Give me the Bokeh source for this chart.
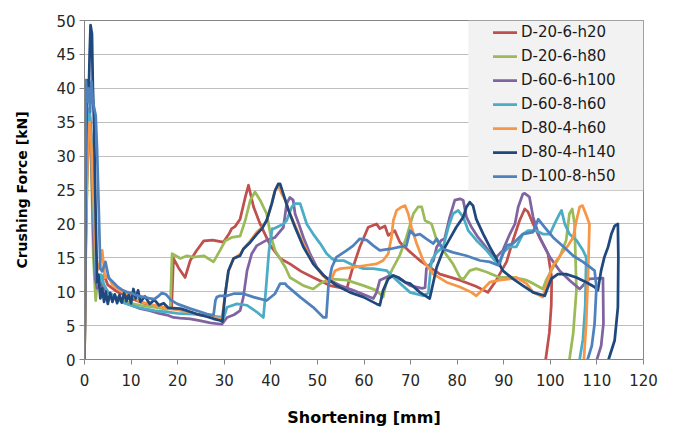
from bokeh.plotting import figure
from bokeh.models import Legend, LegendItem, BoxAnnotation, FixedTicker
from bokeh.embed import file_html
from bokeh.resources import INLINE

# ---------------- data ----------------
series_names = ["D-20-6-h20", "D-20-6-h80", "D-60-6-h100", "D-60-8-h60",
                "D-80-4-h60", "D-80-4-h140", "D-100-8-h50"]
series_colors = ["#C0504D", "#9BBB59", "#8064A2", "#4BACC6",
                 "#F79646", "#1F497D", "#4F81BD"]
x_ticks = [0, 10, 20, 30, 40, 50, 60, 70, 80, 90, 100, 110, 120]
y_ticks = [0, 5, 10, 15, 20, 25, 30, 35, 40, 45, 50]

red_x = [0, 0.3, 0.7, 1.0, 1.4, 1.8, 2.2, 2.6, 3.0, 3.6,
         4.2, 5.0, 6.0, 7.0, 8.5, 10, 12, 14, 16, 18,
         18.7, 19.1, 20.2, 21.6, 22.7, 24.0, 25.6, 27.5, 29.8, 31.0,
         31.6, 32.3, 33.4, 34.5, 35.2, 36.3, 37.7, 39.9, 42.0, 44.1,
         46.5, 49.1, 52.7, 56.3, 57.4, 59.1, 60.9, 62.7, 63.4, 64.5,
         65.2, 66.6, 67.7, 69.5, 72.0, 76.3, 80.6, 84.0, 86.6, 88.4,
         90.6, 92.0, 93.4, 94.5, 95.2, 96.3, 97.7, 99.5, 100.3, 100.2,
         99.8, 99.0]
red_y = [0, 20, 35, 37, 33, 22, 13, 11.5, 12, 11,
         12.5, 11, 10.5, 10, 9.5, 9, 8.5, 8, 7.8, 7.5,
         7.6, 14.9, 13.5, 12.1, 14.6, 16.0, 17.5, 17.6, 17.3, 18.5,
         19.3, 19.6, 20.7, 23.9, 25.7, 22.5, 20.0, 16.8, 14.9, 14.1,
         13.0, 12.1, 10.9, 10.4, 13.1, 16.6, 19.5, 20.0, 19.3, 19.7,
         18.3, 19.0, 17.3, 16.1, 14.6, 12.6, 11.7, 10.8, 9.9, 11.7,
         14.4, 17.6, 20.5, 22.2, 21.8, 20.0, 18.0, 15.6, 12.0, 8.0,
         4.0, 0]

green_x = [0, 0.3, 0.7, 1.1, 1.5, 1.9, 2.4, 2.8, 3.3, 4.0,
           5.0, 6.0, 8, 10, 12, 14, 16, 17.5, 18.4, 18.8,
           19.6, 20.6, 22.0, 23.4, 25.6, 27.7, 29.1, 30.2, 31.6, 33.4,
           34.5, 35.6, 36.6, 37.7, 39.1, 39.9, 40.9, 43.1, 44.1, 47.0,
           49.1, 50.6, 52.7, 56.3, 59.9, 62.7, 64.1, 64.9, 66.3, 67.7,
           69.1, 70.6, 71.6, 72.4, 73.1, 74.5, 75.6, 77.0, 79.1, 80.6,
           81.3, 82.7, 84.1, 86.3, 89.1, 92.0, 94.9, 96.3, 98.4, 99.1,
           100.6, 102.0, 103.4, 104.1, 104.7, 105.2, 105.6, 104.9, 104.1]
green_y = [0, 18, 30, 33, 28, 15, 8.7, 11.5, 12.5, 11,
           10, 9.5, 8.8, 8.3, 8, 7.8, 7.6, 7.4, 7.5, 15.6,
           15.3, 14.9, 15.3, 15.1, 15.3, 14.4, 16.1, 17.5, 18.0, 18.2,
           20.5, 23.5, 24.7, 23.5, 21.5, 18.5, 16.1, 13.6, 12.1, 10.9,
           10.4, 11.2, 11.9, 11.7, 10.9, 10.2, 9.2, 11.7, 13.6, 15.4,
           18.0, 21.5, 22.5, 22.5, 20.5, 20.0, 17.6, 16.1, 14.1, 12.1,
           11.8, 13.1, 13.4, 12.9, 12.1, 12.1, 11.7, 11.2, 10.4, 11.7,
           13.6, 15.1, 17.6, 21.5, 22.2, 20.0, 10.2, 3.8, 0]

purple_x = [0, 0.3, 0.7, 1.1, 1.5, 1.9, 2.3, 2.7, 3.2, 4,
            5, 6, 8, 10, 12, 14, 16, 18, 19.1, 20.5,
            22.7, 25, 27, 29.5, 30.6, 32.1, 33.4, 34.1, 34.9, 35.9,
            37.0, 39.1, 40.9, 42.7, 43.4, 44.1, 44.8, 45.2, 46.0, 47.0,
            48.4, 49.9, 52.0, 54.9, 57.7, 60.6, 62.0, 62.7, 63.4, 65.6,
            66.5, 68.1, 69.9, 72.5, 73.1, 73.4, 74.9, 75.6, 76.6, 77.3,
            78.4, 79.5, 80.6, 81.3, 82.0, 83.1, 84.5, 85.6, 87.0, 88.4,
            89.8, 91.3, 92.4, 93.1, 94.1, 94.5, 95.5, 96.3, 97.7, 99.9,
            102.0, 104.1, 106.3, 108.4, 111.3, 111.4, 110.9, 110.0]
purple_y = [0, 20, 34, 36, 30, 18, 12, 10.5, 11.5, 10.5,
            10, 9.5, 8.5, 8, 7.5, 7.2, 6.8, 6.5, 6.2, 6.1,
            6.0, 5.7, 5.4, 5.2, 6.2, 6.6, 7.2, 9.2, 13.1, 15.6,
            16.8, 17.6, 18.0, 19.5, 23.0, 23.9, 23.5, 21.5, 20.0, 18.0,
            15.6, 13.6, 11.9, 10.9, 10.2, 9.4, 9.0, 9.9, 11.7, 12.4,
            12.3, 11.7, 10.9, 10.5, 10.6, 13.4, 14.6, 16.6, 17.6, 17.8,
            21.0, 23.5, 23.7, 23.5, 21.0, 19.5, 18.0, 17.1, 15.8, 15.1,
            16.1, 18.5, 20.0, 22.5, 24.4, 24.5, 24.0, 21.0, 18.0, 15.1,
            13.1, 11.7, 10.4, 11.9, 12.0, 5.3, 2.0, 0]

cyan_x = [0, 0.3, 0.7, 1.1, 1.5, 2.0, 2.5, 3.0, 3.6, 4.2,
          5, 6, 8, 10, 12, 15, 18, 20, 23.4, 26,
          29.9, 30.6, 32.7, 34.9, 37.0, 38.4, 38.9, 39.6, 40.3, 40.6,
          42.7, 43.4, 44.5, 45.2, 46.3, 47.0, 47.7, 49.1, 50.6, 52.0,
          53.1, 53.8, 55.6, 57.7, 59.9, 62.0, 64.9, 67.0, 69.9, 72.7,
          73.8, 74.5, 75.6, 77.0, 78.1, 79.1, 80.2, 81.3, 82.4, 84.1,
          86.3, 88.1, 89.1, 89.8, 91.3, 92.7, 94.1, 95.2, 97.0, 98.4,
          99.9, 100.9, 102.0, 102.4, 103.1, 104.1, 105.6, 107.0, 107.7, 107.5,
          107.0, 106.3]
cyan_y = [0, 22, 35, 37, 32, 20, 12, 11, 12.5, 11,
          10, 9.5, 8.5, 8, 7.6, 7.2, 7.0, 6.8, 6.7, 6.5,
          6.2, 7.7, 8.2, 8.0, 7.0, 6.2, 10, 16, 19.3, 19.3,
          20.0, 20.5, 22.5, 23.0, 23.0, 21.5, 20.0, 18.5, 17.1, 15.6,
          14.9, 14.6, 14.6, 13.9, 13.4, 13.4, 13.1, 11.7, 9.9, 9.4,
          9.8, 14.6, 15.8, 16.6, 19.5, 21.5, 22.0, 21.0, 19.0, 17.6,
          16.1, 14.6, 13.9, 15.8, 16.6, 16.6, 18.5, 19.0, 19.0, 18.5,
          18.5, 20.0, 21.5, 22.0, 20.0, 18.5, 17.6, 16.1, 15.1, 8.0,
          3.0, 0]

orange_x = [0, 0.3, 0.7, 1.1, 1.5, 1.9, 2.2, 2.6, 3.2, 3.8,
            4.4, 5.0, 6.0, 8, 10, 12, 15, 18, 20, 22.7,
            25, 27.7, 29.5, 30.2, 30.9, 32.0, 33.4, 34.1, 35.6, 37.0,
            38.1, 39.1, 40.2, 40.9, 41.6, 42.3, 43.1, 44.1, 45.2, 46.3,
            49.1, 51.3, 52.7, 53.8, 54.9, 57.7, 60.6, 62.7, 64.1, 65.2,
            65.9, 66.3, 67.0, 68.1, 68.8, 69.5, 70.2, 71.3, 72.7, 74.9,
            77.7, 80.6, 83.1, 84.1, 85.6, 87.0, 89.1, 91.3, 92.7, 94.9,
            96.3, 98.4, 99.5, 100.2, 101.3, 102.4, 103.8, 104.9, 105.6, 106.3,
            106.9, 107.6, 108.4, 108.1, 107.7, 107.2]
orange_y = [0, 18, 32, 35, 31, 24, 20, 13, 14, 16.1,
            12, 12.5, 11, 10, 9.5, 8.5, 8, 7.5, 7.3, 7.0,
            6.5, 6.2, 6.0, 9.5, 13, 14.9, 15.5, 16.3, 17.5, 18.8,
            19.5, 20.5, 23.0, 24.9, 25.7, 24.5, 23.5, 21.5, 19.8, 18.0,
            14.1, 12.3, 11.4, 13.1, 13.4, 13.6, 13.9, 14.1, 14.6, 15.6,
            18.0, 20.5, 22.0, 22.5, 22.7, 21.5, 19.5, 17.1, 14.6, 12.6,
            11.4, 10.7, 9.9, 9.4, 10.4, 11.4, 11.7, 11.9, 12.1, 11.2,
            9.9, 9.2, 11.7, 13.4, 14.6, 15.6, 16.8, 18.0, 20.5, 22.5,
            22.7, 21.5, 20.0, 12.6, 5.3, 0]

navy_x = [0, 0.3, 0.5, 0.7, 0.9, 1.1, 1.3, 1.6, 1.8, 2.0,
          2.4, 2.7, 3.0, 3.4, 3.8, 4.2, 4.6, 5.0, 5.5, 6.0,
          6.5, 7.0, 7.5, 8.0, 8.5, 9.0, 9.5, 10.0, 10.5, 11.0,
          11.5, 12.0, 13, 14, 15, 16, 17, 18, 20.6, 22,
          24.1, 26, 27.7, 29.1, 29.6, 30.2, 30.9, 32.0, 33.4, 34.1,
          35.6, 37.0, 38.1, 39.1, 40.2, 40.9, 41.6, 42.0, 42.7, 43.8,
          45.2, 47.0, 49.1, 51.3, 54.1, 57.0, 59.9, 62.7, 63.4, 64.1,
          65.2, 66.3, 67.4, 68.8, 69.9, 72.0, 74.1, 74.5, 75.6, 77.0,
          78.4, 79.8, 81.3, 82.0, 82.7, 83.4, 84.1, 85.6, 87.0, 88.4,
          89.8, 92.0, 94.1, 96.3, 98.8, 100.2, 101.6, 103.4, 105.6, 107.7,
          109.5, 110.2, 110.9, 111.6, 112.4, 113.1, 113.8, 114.5, 114.6, 114.5,
          113.8, 112.5]
navy_y = [0, 30, 41.2, 41, 38.5, 45, 49.3, 48, 40, 36,
          21.2, 11.4, 12.5, 9, 10.5, 8.5, 10, 8.2, 9.8, 8.5,
          9.6, 8.3, 9.5, 8.4, 9.8, 8.6, 9.5, 8.3, 10.4, 9.0,
          10.2, 8.5, 9.3, 8.2, 8.8, 8.0, 8.3, 7.6, 7.5, 7.2,
          6.7, 6.4, 6.0, 5.75, 5.6, 9.7, 13.1, 14.9, 15.3, 16.3,
          17.3, 18.5, 19.3, 20.5, 23.0, 24.9, 25.9, 25.9, 24.4, 22.0,
          19.5, 16.6, 14.1, 12.4, 10.9, 9.9, 9.2, 8.2, 8.0, 10.2,
          11.9, 12.4, 12.1, 11.4, 11.2, 9.9, 9.0, 10.2, 13.6, 16.1,
          17.8, 19.5, 21.0, 22.5, 23.2, 22.7, 20.7, 18.5, 16.6, 14.9,
          13.1, 11.9, 10.9, 9.9, 9.4, 11.9, 12.6, 12.6, 12.1, 11.4,
          10.7, 10.2, 13.1, 15.1, 16.6, 18.5, 19.7, 20.0, 15.1, 7.7,
          2.8, 0]

blue_x = [0, 0.15, 0.3, 0.6, 0.9, 1.2, 1.5, 1.8, 2.1, 2.4,
          2.7, 3.1, 3.4, 3.8, 4.5, 5.2, 6, 7, 8, 9,
          10, 11, 12, 13, 14, 15, 15.8, 16.6, 17.5, 18.5,
          19.9, 22.7, 25, 26.3, 27.7, 28.1, 28.4, 29.1, 30.6, 32.0,
          33.4, 34.1, 36.3, 39.1, 40.9, 42.0, 43.1, 43.4, 46.3, 49.1,
          51.3, 51.9, 52.4, 53.1, 54.1, 56.3, 57.7, 59.1, 60.6, 62.0,
          63.4, 65.6, 67.7, 69.1, 69.9, 70.9, 72.0, 73.4, 74.9, 75.6,
          77.0, 79.1, 82.0, 84.9, 87.0, 88.8, 89.5, 90.6, 92.0, 94.1,
          96.3, 97.4, 98.8, 100.6, 102.9, 104.9, 107.0, 109.5, 109.9, 109.5,
          108.9, 108.0]
blue_y = [0, 20, 41.2, 38, 40, 36.5, 41, 38, 37, 36,
          31, 21.2, 13.4, 13, 14.4, 12, 11.5, 10.8, 10.3, 10,
          9.8, 9.5, 9.3, 9.2, 9.0, 8.9, 9.3, 9.8, 9.6, 8.8,
          8.2, 7.5, 7.0, 6.7, 6.5, 8.7, 9.2, 9.4, 9.4, 9.7,
          9.7, 9.7, 9.2, 8.7, 9.7, 11.2, 11.2, 10.9, 9.2, 7.7,
          6.2, 6.2, 11.2, 13.6, 15.1, 16.1, 16.8, 17.8, 17.6, 16.8,
          16.1, 16.3, 16.6, 16.8, 19.0, 18.3, 18.5, 17.8, 17.1, 17.8,
          16.3, 15.8, 15.3, 14.6, 14.4, 13.9, 15.0, 16.8, 17.1, 18.5,
          18.8, 20.7, 19.5, 18.0, 16.6, 15.3, 14.4, 13.1, 10.7, 5.3,
          2.0, 0]

all_x = [red_x, green_x, purple_x, cyan_x, orange_x, navy_x, blue_x]
all_y = [red_y, green_y, purple_y, cyan_y, orange_y, navy_y, blue_y]

# ---------------- figure ----------------
FONT = "DejaVu Sans"
p = figure(width=673, height=429, x_range=(0, 120), y_range=(0, 50),
           output_backend="svg", toolbar_location=None,
           min_border_left=84, min_border_right=30,
           min_border_top=20, min_border_bottom=70)
p.background_fill_color = "white"
p.border_fill_color = "white"
p.outline_line_color = "#868686"
p.outline_line_width = 1

p.xgrid.visible = False
p.ygrid.grid_line_color = "#BFBFBF"
p.ygrid.grid_line_width = 1

p.xaxis.ticker = FixedTicker(ticks=x_ticks)
p.yaxis.ticker = FixedTicker(ticks=y_ticks)
for ax in (p.xaxis[0], p.yaxis[0]):
    ax.axis_line_color = "#868686"
    ax.major_tick_line_color = "#868686"
    ax.major_tick_in = 0
    ax.major_tick_out = 5
    ax.minor_tick_line_color = None
    ax.major_label_text_font = FONT
    ax.major_label_text_font_size = "15px"
    ax.major_label_text_color = "#262626"
    ax.axis_label_text_font = FONT
    ax.axis_label_text_font_style = "bold"
    ax.axis_label_text_color = "black"

p.xaxis.axis_label = "Shortening [mm]"
p.xaxis.axis_label_text_font_size = "16px"
p.xaxis.major_label_standoff = 9
p.xaxis.axis_label_standoff = 19
p.yaxis.axis_label = "Crushing Force [kN]"
p.yaxis.axis_label_text_font_size = "14px"
p.yaxis.major_label_standoff = 4
p.yaxis.axis_label_standoff = 23

# legend background box
box = BoxAnnotation(left=82.4, right=120, bottom=24.95, top=50,
                    fill_color="#F2F2F2", fill_alpha=1.0, line_alpha=0)
p.add_layout(box)

items = []
for name, color, xs, ys in zip(series_names, series_colors, all_x, all_y):
    pts = list(zip(xs, ys))
    r = p.line([a for a, b in pts], [b for a, b in pts], line_color=color,
               line_width=2.75, line_join="round", line_cap="round")
    items.append(LegendItem(label=name, renderers=[r]))

legend = Legend(items=items, location="top_right", margin=2, padding=0,
                spacing=4, label_height=20, glyph_height=20, glyph_width=24,
                label_standoff=4, label_width=120,
                label_text_font=FONT, label_text_font_size="15px",
                label_text_color="#1a1a1a",
                background_fill_alpha=0, border_line_alpha=0)
p.add_layout(legend)

open("out.html", "w").write(file_html(p, INLINE))
